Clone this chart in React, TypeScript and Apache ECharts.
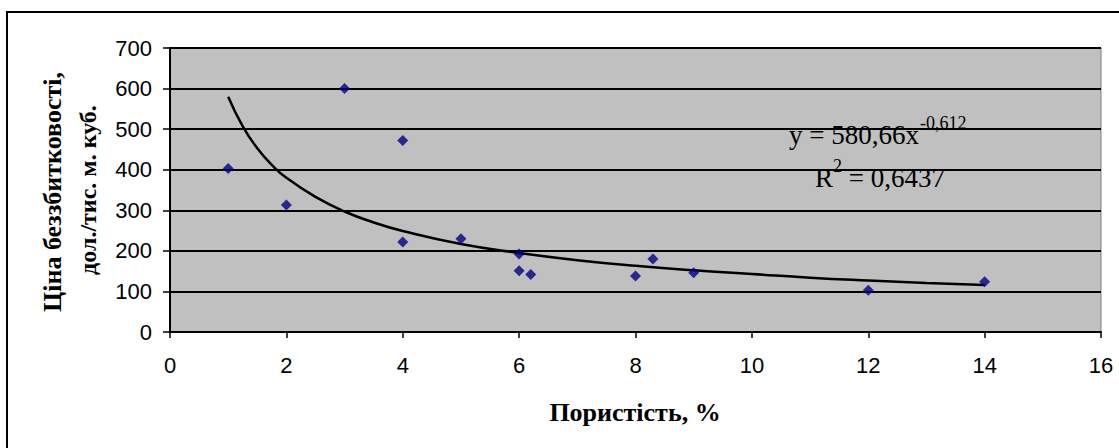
import React, { useEffect, useRef } from "react";
import * as echarts from "echarts";

const porosity = [1, 2, 3, 4, 4, 5, 6, 6, 6.2, 8, 8.3, 9, 12, 14];
const price = [403, 313, 600, 472, 222, 230, 192, 151, 142, 138, 180, 146, 103, 124];

// trend line (y = 580,66x^-0,612)
const trendX = [1, 1.25, 1.5, 1.75, 2, 2.5, 3, 3.5, 4, 5, 6, 7, 8, 9, 10, 11, 12, 13, 14];
const trendY = [580, 507, 453, 412, 380, 333, 297, 270, 249, 217, 195, 177, 163, 152, 143, 134, 127, 121, 116];

const xTicks = { min: 0, max: 16, interval: 2 };
const yTicks = { min: 0, max: 700, interval: 100 };

const eqText = "y = 580,66x";
const eqExp = "-0,612";
const r2Base = "R";
const r2Exp = "2";
const r2Rest = " = 0,6437";
const xTitle = "Пористість, %";
const yTitle1 = "Ціна беззбитковості,";
const yTitle2 = "дол./тис. м. куб.";

export default function App() {
  const ref = useRef<HTMLDivElement>(null);
  useEffect(() => {
    if (!ref.current) return;
    const chart = echarts.init(ref.current, null, { renderer: "svg" });
    const serif = "'Liberation Serif', 'Times New Roman', serif";
    const sans = "'Liberation Sans', Arial, sans-serif";
    chart.setOption({
      animation: false,
      backgroundColor: "#ffffff",
      grid: {
        left: 170,
        top: 48,
        right: 18,
        bottom: 116,
        show: true,
        backgroundColor: "#c0c0c0",
        borderColor: "#808080",
        borderWidth: 1,
      },
      xAxis: {
        type: "value",
        min: xTicks.min,
        max: xTicks.max,
        interval: xTicks.interval,
        axisLine: { show: true, onZero: false, lineStyle: { color: "#000", width: 2 } },
        axisTick: { show: true, length: 6, lineStyle: { color: "#000", width: 1.5 } },
        splitLine: { show: false },
        axisLabel: { color: "#000", fontFamily: sans, fontSize: 22, margin: 22 },
      },
      yAxis: {
        type: "value",
        min: yTicks.min,
        max: yTicks.max,
        interval: yTicks.interval,
        axisLine: { show: true, lineStyle: { color: "#000", width: 2 } },
        axisTick: { show: true, length: 7, lineStyle: { color: "#000", width: 1.5 } },
        splitLine: { show: true, lineStyle: { color: "#000", width: 1.8 } },
        axisLabel: { color: "#000", fontFamily: sans, fontSize: 22, margin: 18 },
      },
      series: [
        {
          type: "line",
          data: trendX.map((x, i) => [x, trendY[i]]),
          smooth: true,
          showSymbol: false,
          lineStyle: { color: "#000", width: 2.5 },
          z: 2,
        },
        {
          type: "scatter",
          data: porosity.map((x, i) => [x, price[i]]),
          symbol: "diamond",
          symbolSize: [11, 11],
          itemStyle: { color: "#000080" },
          z: 3,
        },
      ],
      graphic: [
        {
          type: "rect",
          shape: { x: 7, y: 12, width: 1200, height: 600 },
          style: { fill: "none", stroke: "#000", lineWidth: 2 },
          silent: true,
        },
        {
          type: "text",
          x: 789,
          y: 135,
          style: { text: eqText, font: `27px ${serif}`, fill: "#000", verticalAlign: "middle", align: "left" },
        },
        {
          type: "text",
          x: 920,
          y: 123,
          style: { text: eqExp, font: `18px ${serif}`, fill: "#000", verticalAlign: "middle", align: "left" },
        },
        {
          type: "text",
          x: 815,
          y: 178,
          style: { text: r2Base, font: `27px ${serif}`, fill: "#000", verticalAlign: "middle", align: "left" },
        },
        {
          type: "text",
          x: 833,
          y: 166,
          style: { text: r2Exp, font: `18px ${serif}`, fill: "#000", verticalAlign: "middle", align: "left" },
        },
        {
          type: "text",
          x: 842,
          y: 178,
          style: { text: r2Rest, font: `27px ${serif}`, fill: "#000", verticalAlign: "middle", align: "left" },
        },
        {
          type: "text",
          x: 635,
          y: 412,
          style: { text: xTitle, font: `bold 26px ${serif}`, fill: "#000", verticalAlign: "middle", align: "center" },
        },
        {
          type: "text",
          x: 52,
          y: 192,
          rotation: Math.PI / 2,
          style: { text: yTitle1, font: `bold 26px ${serif}`, fill: "#000", verticalAlign: "middle", align: "center" },
        },
        {
          type: "text",
          x: 88,
          y: 190,
          rotation: Math.PI / 2,
          style: { text: yTitle2, font: `bold 24px ${serif}`, fill: "#000", verticalAlign: "middle", align: "center" },
        },
      ],
    });
    return () => chart.dispose();
  }, []);
  return (
    <div
      ref={ref}
      style={{ position: "absolute", left: 0, top: 0, width: 1119, height: 448 }}
    />
  );
}
